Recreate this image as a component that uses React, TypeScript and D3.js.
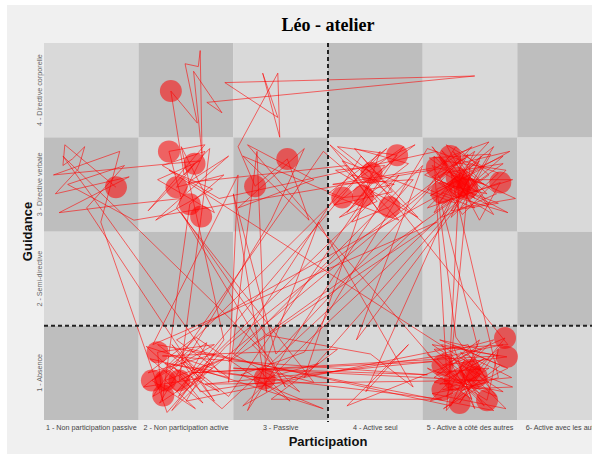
import * as d3 from 'd3'

const participationLabels = [
  '1 - Non participation passive',
  '2 - Non participation active',
  '3 - Passive',
  '4 - Active seul',
  '5 - Active à côté des autres',
  '6- Active avec les autres',
]
const guidanceLabels = ['1 - Absence', '2 - Semi-directive', '3 - Directive verbale', '4 - Directive corporelle']

// observed sequence [participation, guidance] with jitter
const trajectory: [number, number][] = [
  [1.26, 2.97], [0.72, 3.42], [0.7, 3.2], [0.8, 3.27], [0.93, 3.4], [0.86, 3.16], [0.62, 2.9], [1.4, 3.08], [0.66, 2.7], [1.3, 2.78],
  [1.95, 2.85], [1.82, 3.35], [2.2, 3.42], [1.6, 2.72], [2.09, 3.22], [1.9, 2.97], [2.4, 3.1], [2.04, 2.79], [1.75, 0.7], [1.7, 1.22],
  [2.3, 1.3], [1.64, 0.92], [2.1, 0.62], [1.78, 0.92], [2.4, 1.15], [1.93, 0.92], [2.16, 2.66], [2.25, 3.38], [1.98, 3.1], [1.84, 3.99],
  [2.12, 3.65], [1.99, 4.28], [2.13, 4.25], [2.15, 4.42], [2.17, 3.3], [2.08, 4.2], [2.38, 3.76], [2.22, 3.87], [5.05, 4.15], [2.41, 4.08],
  [2.97, 3.71], [2.81, 4.18], [2.99, 3.5], [2.97, 4.18], [2.55, 3.4], [2.73, 2.98], [3.07, 3.27], [3.3, 2.62], [2.6, 3.3], [3.65, 2.86],
  [3.87, 2.88], [3.96, 3.12], [3.6, 3.4], [4.23, 3.31], [3.75, 2.6], [4.15, 2.76], [4.4, 3.05], [3.55, 3.0], [4.65, 3.18], [4.79, 3.3],
  [5.2, 3.45], [4.7, 2.91], [5.4, 2.7], [4.89, 2.97], [4.6, 3.4], [4.97, 2.96], [5.35, 3.3], [4.86, 3.07], [5.1, 2.62], [5.32, 3.02],
  [4.55, 2.75], [5.0, 3.2], [4.75, 0.6], [5.37, 1.37], [4.71, 1.08], [5.39, 1.17], [4.6, 1.3], [5.0, 1.03], [5.45, 0.85], [4.71, 0.82],
  [5.07, 0.96], [4.89, 0.68], [5.3, 1.25], [5.18, 0.71], [4.84, 0.92], [4.55, 1.2], [5.25, 0.6], [1.7, 1.3], [2.35, 0.8], [1.78, 1.1],
  [2.83, 0.94], [3.4, 1.1], [2.6, 0.65], [3.3, 1.35], [4.9, 2.85], [4.62, 3.05], [5.05, 3.35], [4.7, 2.65], [5.28, 2.9], [4.95, 3.15],
  [3.9, 0.8], [4.35, 1.3], [3.7, 0.65], [4.95, 1.15], [4.75, 0.75], [5.2, 1.05], [4.65, 1.0], [5.1, 1.35], [4.8, 0.65], [2.05, 1.25],
  [1.55, 0.85], [2.2, 0.95], [1.85, 0.6], [2.4, 1.35], [1.95, 3.4], [2.3, 2.7], [1.7, 3.05], [2.15, 3.25], [0.6, 3.1], [1.3, 3.35],
  [1.1, 2.6], [1.8, 0.58], [2.25, 1.1], [1.65, 0.75], [3.45, 3.35], [3.8, 3.05], [4.3, 3.4], [3.7, 2.7], [4.1, 3.2], [3.58, 3.15],
  [4.45, 2.65], [3.85, 3.3], [2.5, 1.2], [3.2, 0.8], [2.7, 1.3], [5.2, 3.1], [4.85, 3.4], [4.55, 2.95], [5.05, 2.75], [4.72, 3.25],
  [5.38, 3.15], [4.92, 2.68], [4.6, 3.2], [5.15, 3.0], [4.8, 3.1], [5.3, 0.95], [4.58, 0.7], [5.12, 1.25], [4.68, 1.35], [5.4, 1.05],
  [4.9, 0.8], [5.05, 1.15], [4.62, 0.9], [5.22, 0.82], [4.98, 1.3], [2.0, 0.7], [2.3, 1.2], [1.6, 1.0], [2.1, 1.38], [3.1, 0.7],
  [2.75, 1.05], [3.35, 0.9], [1.9, 2.75], [2.2, 3.35], [1.75, 3.2], [2.35, 2.85], [4.65, 3.35], [4.95, 2.9], [5.25, 3.4], [4.75, 3.0],
  [5.1, 3.25], [4.85, 2.8], [3.65, 3.25], [4.05, 2.7], [3.75, 3.1], [4.2, 3.0], [3.95, 2.95], [2.45, 0.75], [1.95, 1.15], [2.15, 0.8],
  [4.8, 1.2], [5.15, 0.65], [4.65, 1.15], [5.35, 1.3], [4.95, 0.95], [5.1, 0.78], [4.75, 1.05],
  [4.62, 3.3], [5.05, 2.85], [4.75, 3.42], [5.15, 3.18], [4.58, 2.88], [5.42, 3.35], [4.88, 3.22], [5.25, 2.68], [4.68, 3.02], [5.02, 3.4],
  [4.52, 3.1], [5.3, 2.8], [4.8, 2.72], [5.12, 3.3], [4.66, 2.8], [5.45, 3.05], [4.93, 3.05], [4.7, 3.36], [5.18, 2.9], [4.84, 2.98],
  [1.9, 1.35], [2.45, 0.95], [1.62, 1.15], [2.18, 0.68], [1.88, 1.05], [2.38, 0.62],
  [4.5, 2.6], [3.52, 3.42], [4.02, 2.82], [3.62, 2.65], [4.35, 3.22], [3.78, 3.38], [4.18, 2.92], [3.56, 2.78], [4.42, 3.42], [3.9, 3.18],
  [5.4, 1.3], [4.62, 1.25], [5.1, 0.85], [4.72, 0.62], [5.32, 1.08], [4.82, 1.3], [5.02, 0.72], [4.55, 1.05], [5.28, 0.75], [4.9, 1.22],
  [5.44, 0.95], [4.68, 0.88], [5.15, 1.15], [4.78, 0.95],
  [2.65, 3.42], [3.35, 3.05], [2.55, 2.75], [3.25, 3.38], [2.9, 2.62],
  [1.72, 0.68], [2.28, 1.05], [1.58, 1.28], [2.05, 0.85], [2.42, 1.28],
  [4.98, 3.32], [4.62, 2.7], [5.35, 3.22], [4.72, 3.12], [5.08, 2.92], [4.57, 3.28], [5.22, 3.32], [4.9, 2.75], [5.48, 2.85], [4.76, 3.18],
  [1.45, 2.62], [0.75, 3.0], [1.35, 3.2], [0.95, 2.75],
  [2.3, 0.7], [1.85, 1.3], [2.1, 1.05],
  [3.45, 0.62], [2.58, 0.98], [3.25, 1.22],
  [4.55, 3.38], [5.3, 3.12], [4.8, 2.65], [5.0, 3.1], [4.65, 2.95],
  [4.85, 1.38], [5.2, 0.9], [4.6, 0.78], [5.38, 0.62], [4.95, 1.05], [5.25, 1.35], [4.7, 1.2], [5.12, 1.02],
  [1.82, 3.15], [2.28, 2.95], [1.68, 2.62], [2.45, 3.3], [2.02, 3.02],
  [3.7, 3.2], [4.25, 2.62], [3.5, 2.9], [4.12, 3.38],
  [1.68, 0.95], [2.22, 1.32], [1.92, 0.75],
  [4.95, 3.28], [4.6, 3.08], [5.2, 2.78], [4.82, 3.35], [5.1, 3.05], [4.7, 2.78],
  [5.08, 1.28], [4.62, 0.95], [5.35, 0.8], [4.88, 1.1], [5.05, 0.62], [4.7, 1.3], [5.3, 1.18],
  [2.05, 1.0], [4.6, 1.12], [2.2, 0.88], [5.1, 0.92], [2.5, 1.05], [4.55, 0.98], [1.75, 1.18], [3.6, 1.25], [2.9, 0.72], [4.7, 0.72],
  [2.35, 1.0], [0.7, 3.3], [2.9, 1.15], [3.05, 0.85], [1.95, 2.7], [2.85, 1.4], [3.95, 1.2], [4.4, 0.85], [3.4, 2.6], [2.65, 0.6],
  [4.25, 3.1], [1.9, 0.8], [4.05, 3.35], [3.25, 0.95], [5.0, 2.95], [3.8, 1.35], [4.5, 3.2], [2.45, 1.12], [4.65, 2.6], [1.65, 1.3],
  [2.55, 3.1], [2.45, 0.9], [2.75, 3.35], [2.85, 0.8], [2.5, 2.9], [2.95, 1.2], [4.9, 3.3], [4.78, 1.0],
]

// highlighted moments
const circles: [number, number][] = [
  [1.84, 3.99],
  [1.26, 2.97], [1.82, 3.35], [2.09, 3.22], [1.9, 2.97], [2.04, 2.79], [2.16, 2.66],
  [2.73, 2.98], [3.07, 3.27],
  [3.65, 2.86], [3.87, 2.88], [3.96, 3.12], [4.23, 3.31], [4.15, 2.76],
  [4.65, 3.18], [4.79, 3.3], [4.7, 2.91], [4.89, 2.97], [4.97, 2.96], [4.86, 3.07], [5.32, 3.02],
  [1.7, 1.22], [1.64, 0.92], [1.78, 0.92], [1.93, 0.92], [1.76, 0.76], [2.83, 0.94],
  [5.37, 1.37], [5.39, 1.17], [4.71, 1.08], [5.0, 1.03], [5.07, 0.96], [4.71, 0.82], [4.89, 0.68], [5.18, 0.71], [4.84, 0.92],
]

const W = 592
const H = 455

export default function App() {
  const x = d3.scaleLinear().domain([0.5, 6.5]).range([44, 612])
  const y = d3.scaleLinear().domain([0.5, 4.5]).range([420, 43])
  const cols = d3.range(1, 7)
  const rows = d3.range(1, 5)
  const cw = x(1.5) - x(0.5)
  const rh = y(0.5) - y(1.5)

  const line = d3.line<[number, number]>()
    .x((d) => x(d[0]))
    .y((d) => y(d[1]))

  return (
    <svg width={W} height={H} style={{ position: 'absolute', left: 0, top: 0, display: 'block' }}>
      <rect x={0} y={0} width={W} height={H} fill="#ffffff" />
      <rect x={7} y={5} width={W - 7} height={H - 6} fill="#f0f0f0" />
      {rows.map((r) =>
        cols.map((c) => (
          <rect
            key={`${r}-${c}`}
            x={x(c - 0.5)}
            y={y(r + 0.5)}
            width={cw}
            height={rh}
            fill={(r + c) % 2 === 0 ? '#bebebe' : '#d9d9d9'}
          />
        ))
      )}
      <path d={line(trajectory) ?? ''} fill="none" stroke="rgba(255,0,0,0.72)" strokeWidth={0.8} strokeLinejoin="miter" />
      {circles.map((d, i) => (
        <circle key={i} cx={x(d[0])} cy={y(d[1])} r={11} fill="rgba(255,0,0,0.55)" />
      ))}
      <line x1={x(3.5)} x2={x(3.5)} y1={y(4.5)} y2={y(0.5) + 2} stroke="#222" strokeWidth={2} strokeDasharray="4,3" />
      <line x1={x(0.5)} x2={W} y1={y(1.5)} y2={y(1.5)} stroke="#222" strokeWidth={2} strokeDasharray="4,3" />

      {participationLabels.map((t, i) => (
        <text key={t} x={x(i + 1)} y={430} textAnchor="middle" fontFamily="Liberation Sans, Arial, sans-serif" fontSize={7.2} fill="#444">
          {t}
        </text>
      ))}
      {guidanceLabels.map((t, i) => (
        <text
          key={t}
          transform={`translate(42,${y(i + 1)}) rotate(-90)`}
          textAnchor="middle"
          fontFamily="Liberation Sans, Arial, sans-serif"
          fontSize={7.2}
          fill="#666"
        >
          {t}
        </text>
      ))}
      <text x={x(3.5)} y={31} textAnchor="middle" fontFamily="Liberation Serif, Times New Roman, serif" fontWeight="bold" fontSize={18} fill="#000">
        Léo - atelier
      </text>
      <text x={x(3.5)} y={446} textAnchor="middle" fontFamily="Liberation Sans, Arial, sans-serif" fontWeight="bold" fontSize={13} fill="#111">
        Participation
      </text>
      <text
        transform={`translate(32,${(y(0.5) + y(4.5)) / 2}) rotate(-90)`}
        textAnchor="middle"
        fontFamily="Liberation Sans, Arial, sans-serif"
        fontWeight="bold"
        fontSize={13}
        fill="#111"
      >
        Guidance
      </text>
    </svg>
  )
}
